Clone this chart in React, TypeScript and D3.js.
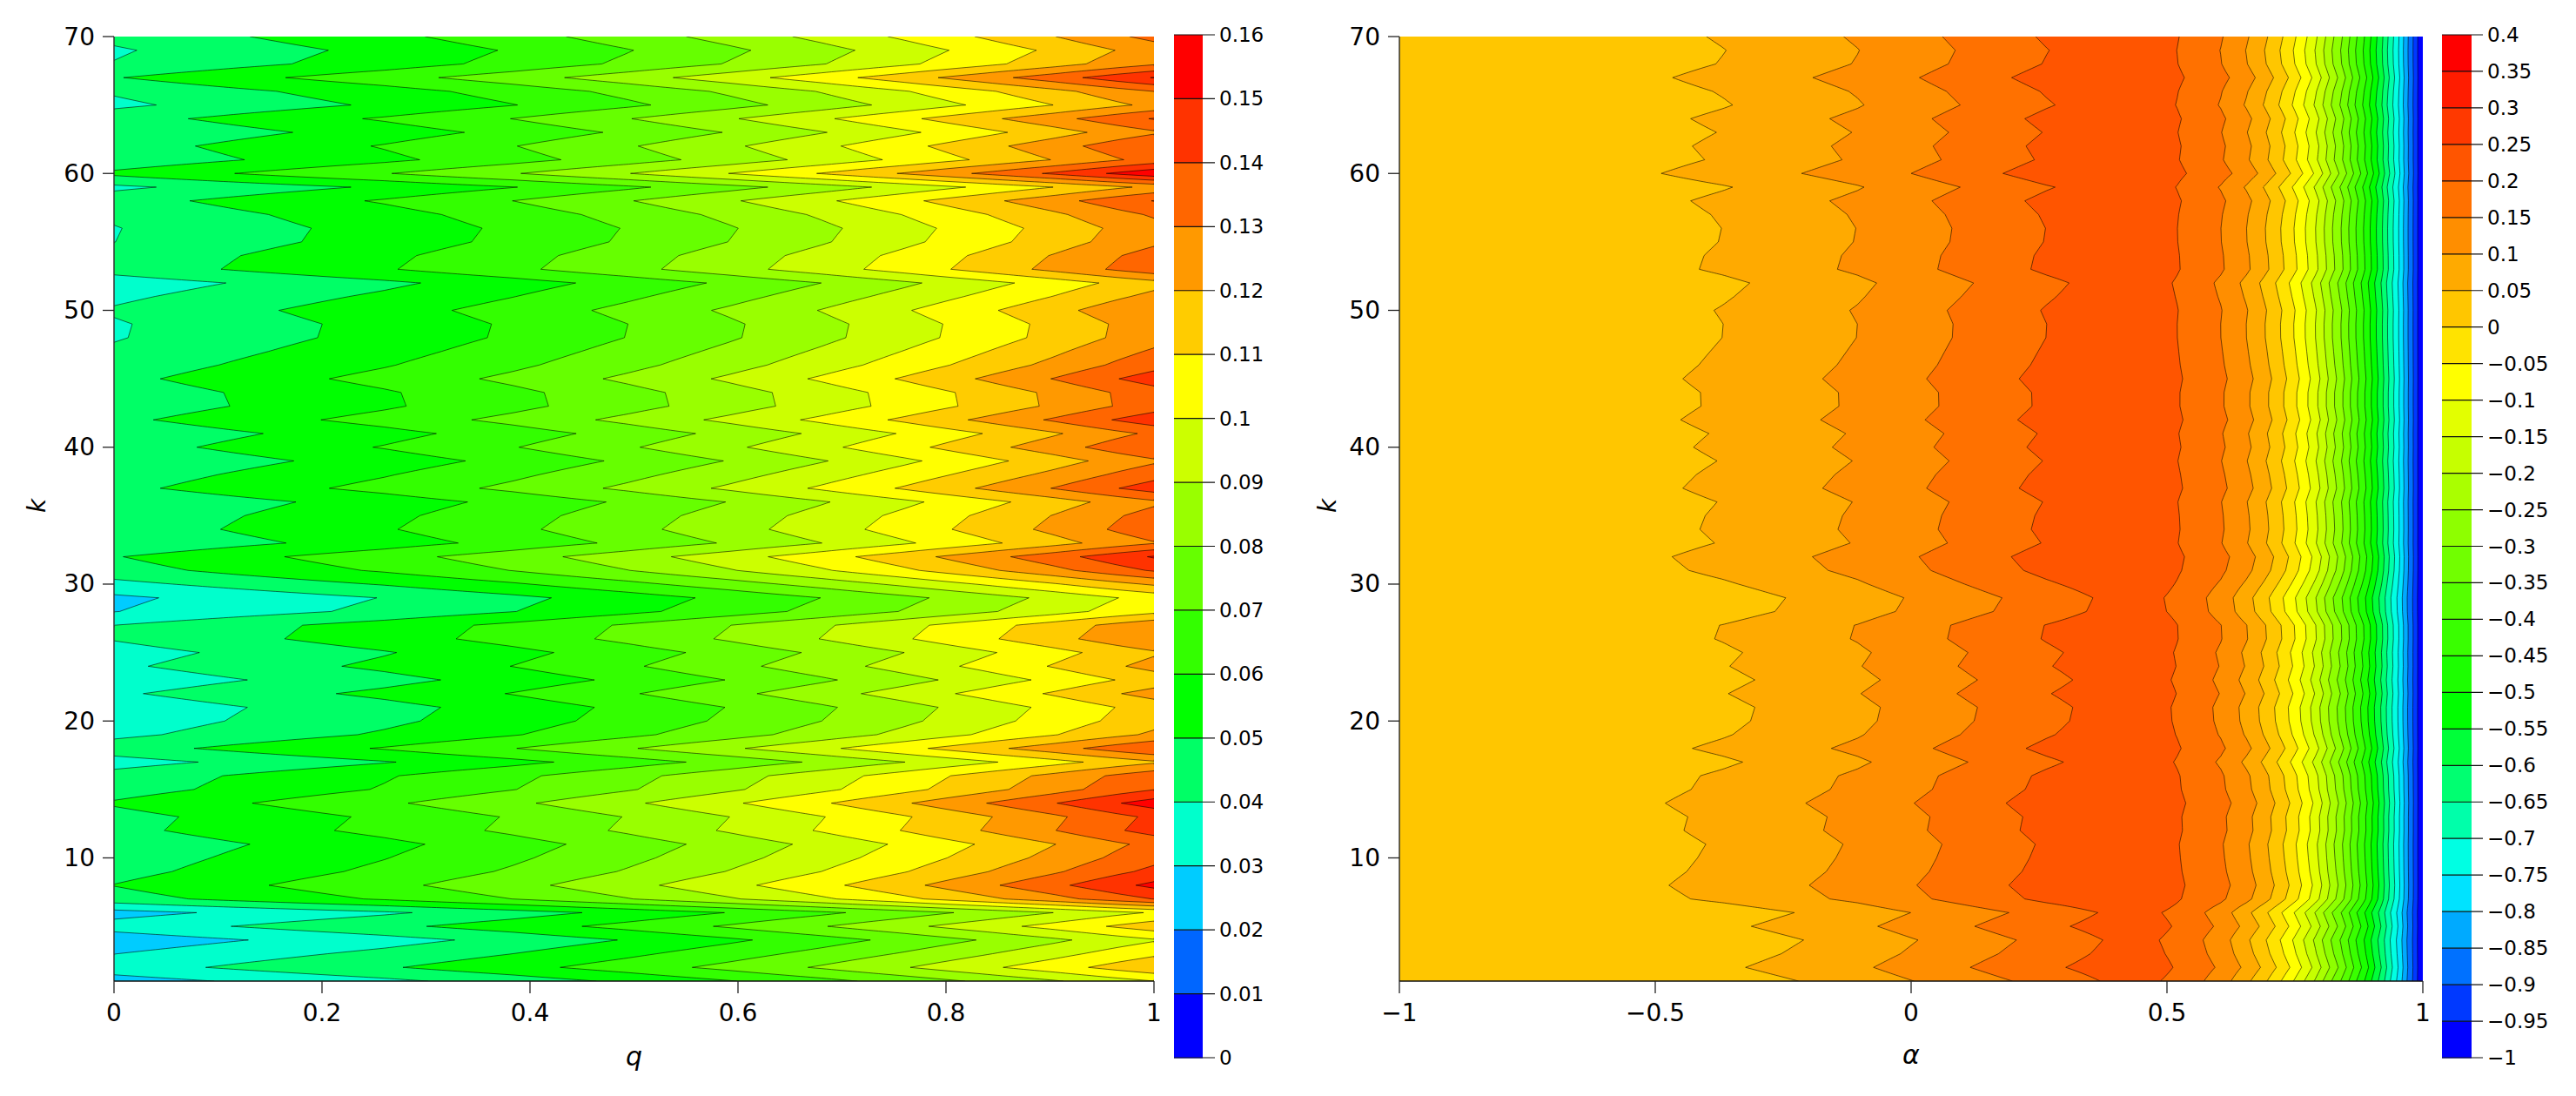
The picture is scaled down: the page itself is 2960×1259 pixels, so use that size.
import * as d3 from 'd3';

// k runs 1..70 on both panels
const kValues = d3.range(1, 71);
const kTicks = [10, 20, 30, 40, 50, 60, 70];

// Left panel: per row, the q where the 0.06 and the 0.10 contours sit (k = 1..70)
const q06 = [
  0.599, 0.429, 0.522, 0.614, 0.45, 0.587, 0.24, 0.149, 0.221, 0.265,
  0.299, 0.212, 0.228, 0.133, 0.246, 0.274, 0.423, 0.246, 0.393, 0.444,
  0.462, 0.376, 0.462, 0.381, 0.423, 0.329, 0.346, 0.526, 0.559, 0.4,
  0.238, 0.164, 0.331, 0.273, 0.294, 0.34, 0.207, 0.271, 0.338, 0.249,
  0.31, 0.199, 0.281, 0.276, 0.207, 0.271, 0.315, 0.359, 0.363, 0.325,
  0.386, 0.444, 0.273, 0.291, 0.344, 0.354, 0.315, 0.241, 0.388, 0.116,
  0.294, 0.247, 0.337, 0.239, 0.388, 0.323, 0.165, 0.336, 0.369, 0.299,
];
const q10 = [
  1.001, 0.855, 0.932, 1.009, 0.873, 0.99, 0.695, 0.618, 0.68, 0.717,
  0.744, 0.672, 0.684, 0.605, 0.699, 0.721, 0.85, 0.699, 0.824, 0.867,
  0.882, 0.809, 0.882, 0.813, 0.849, 0.768, 0.784, 0.937, 0.966, 0.828,
  0.691, 0.629, 0.771, 0.722, 0.739, 0.779, 0.667, 0.721, 0.777, 0.701,
  0.752, 0.66, 0.728, 0.725, 0.667, 0.72, 0.757, 0.794, 0.797, 0.767,
  0.817, 0.866, 0.721, 0.737, 0.78, 0.791, 0.757, 0.695, 0.819, 0.591,
  0.739, 0.699, 0.776, 0.693, 0.819, 0.765, 0.631, 0.775, 0.803, 0.744,
];
// values along the k = 60 row
const rowQ = [0, 0.116, 0.259, 0.383, 0.493, 0.591, 0.679, 0.759, 0.833, 0.903, 0.966, 1];
const rowZ = [0.054, 0.0615, 0.0705, 0.08, 0.09, 0.1, 0.11, 0.12, 0.13, 0.14, 0.15, 0.155];
const qTicks = [0, 0.2, 0.4, 0.6, 0.8, 1];
const leftLevels = d3.range(0, 16).map(i => i / 100);
const leftBarTicks = d3.range(0, 17).map(i => i / 100);

// Right panel: per row, the alpha of the 0.10 contour (k = 1..70)
const alpha10 = [
  0, -0.074, -0.024, 0.007, -0.066, -0.006, -0.159, -0.199, -0.166, -0.147,
  -0.133, -0.171, -0.164, -0.206, -0.158, -0.142, -0.078, -0.156, -0.092, -0.067,
  -0.061, -0.098, -0.061, -0.096, -0.078, -0.119, -0.111, -0.033, -0.018, -0.084,
  -0.162, -0.193, -0.119, -0.143, -0.134, -0.115, -0.173, -0.149, -0.115, -0.154,
  -0.128, -0.177, -0.141, -0.142, -0.173, -0.145, -0.126, -0.107, -0.105, -0.12,
  -0.09, -0.068, -0.144, -0.136, -0.113, -0.108, -0.125, -0.159, -0.092, -0.214,
  -0.135, -0.156, -0.116, -0.159, -0.092, -0.122, -0.192, -0.117, -0.101, -0.132,
];
// values along the k = 49 row
const profileAlpha = [
  -1, -0.6, -0.5, -0.367, -0.105, 0.082, 0.265, 0.4, 0.45, 0.52, 0.605, 0.655, 0.692, 0.722, 0.748, 0.77, 0.79, 0.807,
  0.823, 0.84, 0.855, 0.869, 0.884, 0.897, 0.909, 0.921, 0.931, 0.942, 0.953, 0.962, 0.971, 0.981, 0.99, 1,
];
const profileZ = [
  0.02, 0.024, 0.0292, 0.05, 0.1, 0.15, 0.2, 0.232, 0.232, 0.2, 0.15, 0.1, 0.05, 0, -0.05, -0.1, -0.15, -0.2,
  -0.25, -0.3, -0.35, -0.4, -0.45, -0.5, -0.55, -0.6, -0.65, -0.7, -0.75, -0.8, -0.85, -0.9, -0.95, -1,
];
// how strongly a row's offset shows at each alpha
const swingAlpha = [-1, -0.6, -0.5, -0.4, -0.105, 0.1, 0.27, 0.4, 0.52, 0.6, 0.65, 0.7, 0.75, 0.8, 0.85, 0.9, 0.95, 0.98, 1];
const swing = [0.5, 0.7, 0.9, 1, 1, 1.1, 1.15, 0.8, 0.43, 0.82, 1.3, 1.6, 1.85, 2.05, 1.8, 1.4, 0.7, 0.2, 0];
const alphaTicks = [-1, -0.5, 0, 0.5, 1];
const rightLevels = d3.range(0, 28).map(i => -1 + i * 0.05);
const rightBarTicks = d3.range(0, 29).map(i => -1 + i * 0.05);

const FONT = '"DejaVu Sans", sans-serif';
const TOP = 42;
const BOTTOM = 1127;
const BAR_TOP = 40;
const BAR_BOTTOM = 1215;

// blue, cyan, green, yellow, red, in equal steps over each third of the bands
const bandColor = d3
  .scaleLinear<string>()
  .domain([0, 1 / 6, 1 / 3, 2 / 3, 1])
  .range(['#0000ff', '#00ffff', '#00ff00', '#ffff00', '#ff0000'])
  .interpolate(d3.interpolateRgb);

const fmt = (v: number) => {
  const r = Math.round(v * 1000) / 1000;
  return String(r).replace('-', '\u2212');
};

const Panel = ({ id, xDomain, xRange, xTicks, xName, xNameY, labelX, field, nx, levels, barTicks, barX, barW, tickEnd, barFont }: any) => {
  const x = d3.scaleLinear().domain(xDomain).range(xRange);
  const y = d3.scaleLinear().domain([1, 70]).range([BOTTOM, TOP]);
  const gridX = d3.scaleLinear().domain([0, nx - 1]).range(xDomain);
  const columns = d3.range(nx).map(i => gridX(i));

  // rows of the grid, k = 1 first
  const values = new Float64Array(nx * kValues.length);
  kValues.forEach((k, r) => {
    columns.forEach((c, i) => {
      values[r * nx + i] = field(c, r);
    });
  });

  const contours = d3.contours().size([nx, kValues.length]).thresholds(levels)(values as any);
  const path = d3.geoPath(
    d3.geoTransform({
      point(px: number, py: number) {
        (this as any).stream.point(x(gridX(px - 0.5)), y(1 + (py - 0.5)));
      },
    })
  );

  const barY = d3.scaleLinear().domain([barTicks[0], barTicks[barTicks.length - 1]]).range([BAR_BOTTOM, BAR_TOP]);
  const color = (i: number) => bandColor(i / (levels.length - 1));
  const step = levels[1] - levels[0];

  return (
    <g fontFamily={FONT} fill="#000">
      <clipPath id={id}>
        <rect x={xRange[0]} y={TOP} width={xRange[1] - xRange[0]} height={BOTTOM - TOP} />
      </clipPath>
      <g clipPath={`url(#${id})`}>
        {contours.map((c: any, i: number) => (
          <path key={i} d={path(c) as string} fill={color(i)} stroke="none" />
        ))}
        {contours.slice(1).map((c: any, i: number) => (
          <path key={i} d={path(c) as string} fill="none" stroke="#000" strokeOpacity={0.62} strokeWidth={0.9} />
        ))}
      </g>
      <line x1={xRange[0]} x2={xRange[0]} y1={TOP} y2={BOTTOM} stroke="#333" strokeWidth={1.5} />
      <line x1={xRange[0]} x2={xRange[1]} y1={BOTTOM} y2={BOTTOM} stroke="#111" strokeWidth={1.5} />
      {kTicks.map(t => (
        <g key={t}>
          <line x1={xRange[0] - 13} x2={xRange[0]} y1={y(t)} y2={y(t)} stroke="#222" strokeWidth={1.3} />
          <text x={xRange[0] - 22} y={y(t)} textAnchor="end" dominantBaseline="central" fontSize={28}>{t}</text>
        </g>
      ))}
      {xTicks.map((t: number) => (
        <g key={t}>
          <line x1={x(t)} x2={x(t)} y1={BOTTOM} y2={BOTTOM + 14} stroke="#222" strokeWidth={1.3} />
          <text x={x(t)} y={1163} textAnchor="middle" dominantBaseline="central" fontSize={28}>{fmt(t)}</text>
        </g>
      ))}
      <text x={(xRange[0] + xRange[1]) / 2} y={xNameY} textAnchor="middle" dominantBaseline="central" fontSize={30} fontStyle="italic">{xName}</text>
      <text transform={`translate(${labelX},581) rotate(-90)`} textAnchor="middle" dominantBaseline="central" fontSize={28} fontStyle="italic">k</text>

      {levels.map((l: number, i: number) => (
        <rect key={i} x={barX} width={barW} y={barY(l + step)} height={barY(l) - barY(l + step) + 0.5} fill={color(i)} />
      ))}
      {barTicks.map((t: number) => (
        <g key={t}>
          <line x1={barX} x2={tickEnd} y1={barY(t)} y2={barY(t)} stroke="#111" strokeWidth={1.2} />
          <text x={tickEnd + 5} y={barY(t)} dominantBaseline="central" fontSize={barFont}>{fmt(t)}</text>
        </g>
      ))}
    </g>
  );
};

const App = () => {
  // left panel: each row is the k = 60 row rescaled to pass through its two read contours
  const rowProfile = d3.scaleLinear().domain(rowQ).range(rowZ);
  const rowGain = q06.map((q, r) => 0.04 / (rowProfile(q10[r]) - rowProfile(q)));
  const rowBase = q06.map((q, r) => 0.06 - rowGain[r] * rowProfile(q));
  const leftField = (q: number, r: number) => rowBase[r] + rowGain[r] * rowProfile(q);

  // right panel: each row is the k = 49 profile moved to pass through its 0.10 contour
  const profile = d3.scaleLinear().domain(profileAlpha).range(profileZ);
  const swingAt = d3.scaleLinear().domain(swingAlpha).range(swing);
  const rowShift = alpha10.map(a => 0.1 - profile(a));
  const rightField = (a: number, r: number) => profile(a) + rowShift[r] * swingAt(a);

  return (
    <svg width={2960} height={1259} style={{ position: 'absolute', left: 0, top: 0, background: '#fff' }}>
      <Panel
        id="clip-left"
        xDomain={[0, 1]}
        xRange={[131, 1326]}
        xTicks={qTicks}
        xName="q"
        xNameY={1213}
        labelX={42}
        field={leftField}
        nx={201}
        levels={leftLevels}
        barTicks={leftBarTicks}
        barX={1349}
        barW={33}
        tickEnd={1396}
        barFont={23}
      />
      <Panel
        id="clip-right"
        xDomain={[-1, 1]}
        xRange={[1608, 2784]}
        xTicks={alphaTicks}
        xName="α"
        xNameY={1211}
        labelX={1525}
        field={rightField}
        nx={401}
        levels={rightLevels}
        barTicks={rightBarTicks}
        barX={2806}
        barW={34}
        tickEnd={2853}
        barFont={23}
      />
    </svg>
  );
};

export default App;
